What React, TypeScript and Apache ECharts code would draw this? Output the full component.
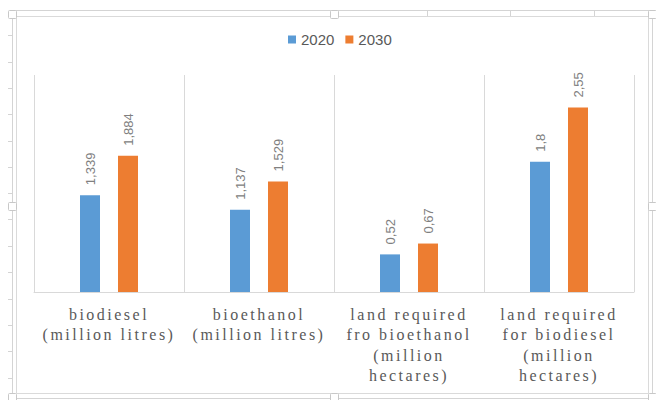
import React, { useEffect, useRef } from "react";
import * as echarts from "echarts";

const categories = [
  "biodiesel\n(million litres)",
  "bioethanol\n(million litres)",
  "land required\nfro bioethanol\n(million\nhectares)",
  "land required\nfor biodiesel\n(million\nhectares)",
];
const series2020 = [1.339, 1.137, 0.52, 1.8];
const series2030 = [1.884, 1.529, 0.67, 2.55];
const seriesNames = ["2020", "2030"];

const fmt = (v: number) => String(v).replace(".", ",");

const SERIF = "'Liberation Serif', serif";

export default function App() {
  const ref = useRef<HTMLDivElement>(null);
  useEffect(() => {
    if (!ref.current) return;
    const el = ref.current;
    const chart = echarts.init(el, undefined, { renderer: "svg" });
    const label = {
      show: true,
      position: "top",
      rotate: 90,
      align: "left",
      verticalAlign: "middle",
      distance: 10,
      color: "#808080",
      fontSize: 13,
      fontFamily: "'Liberation Sans', sans-serif",
      formatter: (p: any) => fmt(p.value),
    };
    const frameColor = "#d4d4d4";
    const handles = [
      [8, 10], [330, 10], [648, 10],
      [8, 202], [648, 202],
      [8, 393], [330, 393], [648, 393],
    ];
    const rowTicks = [35, 62, 88, 114, 141, 167, 193, 219, 246, 272, 299, 325, 351, 378];
    const colTicks = [427, 510, 594];
    const graphic: any[] = [
      {
        type: "rect",
        shape: { x: 12.5, y: 10.5, width: 640, height: 388 },
        style: { fill: "none", stroke: frameColor, lineWidth: 1 },
        silent: true,
      },
      {
        type: "rect",
        shape: { x: 16.5, y: 16.5, width: 632, height: 377 },
        style: { fill: "#fff", stroke: "#dadada", lineWidth: 1 },
        silent: true,
        z: -1,
      },
      ...rowTicks.map((y) => ({
        type: "line",
        shape: { x1: 8, y1: y + 0.5, x2: 12, y2: y + 0.5 },
        style: { stroke: frameColor, lineWidth: 1 },
        silent: true,
      })),
      ...colTicks.map((x) => ({
        type: "line",
        shape: { x1: x + 0.5, y1: 10, x2: x + 0.5, y2: 16 },
        style: { stroke: frameColor, lineWidth: 1 },
        silent: true,
      })),
      ...handles.map(([x, y]) => ({
        type: "rect",
        shape: { x: x + 0.5, y: y + 0.5, width: 8, height: 8, r: 1 },
        style: { fill: "#fff", stroke: "#c8c8c8", lineWidth: 1 },
        silent: true,
      })),
    ];
    chart.setOption({
      animation: false,
      backgroundColor: "#ffffff",
      graphic,
      legend: {
        top: 27,
        left: 283,
        itemWidth: 8,
        itemHeight: 8,
        itemGap: 11,
        icon: "rect",
        textStyle: { color: "#595959", fontSize: 15, fontFamily: "'Liberation Sans', sans-serif" },
        data: seriesNames,
      },
      grid: { left: 34, right: 22, top: 75, bottom: 108 },
      xAxis: {
        type: "category",
        data: categories,
        axisLine: { lineStyle: { color: "#d9d9d9" } },
        axisTick: { show: false },
        splitLine: { show: true, lineStyle: { color: "#d9d9d9" } },
        axisLabel: {
          interval: 0,
          margin: 12,
          lineHeight: 20.5,
          color: "#595959",
          fontSize: 16,
          fontFamily: SERIF,
        },
      },
      yAxis: {
        type: "value",
        min: 0,
        max: 3,
        show: false,
        splitLine: { show: false },
      },
      series: [
        {
          name: seriesNames[0],
          type: "bar",
          data: series2020,
          barWidth: 20,
          barGap: "90%",
          itemStyle: { color: "#5b9bd5" },
          label,
        },
        {
          name: seriesNames[1],
          type: "bar",
          data: series2030,
          barWidth: 20,
          barGap: "90%",
          itemStyle: { color: "#ed7d31" },
          label,
        },
      ],
    });
    const spaceOut = () => {
      el.querySelectorAll("text").forEach((t) => {
        const ff = window.getComputedStyle(t).fontFamily || "";
        if (ff.indexOf("Liberation Serif") >= 0) {
          (t as SVGTextElement).style.letterSpacing = "2.5px";
        }
      });
    };
    spaceOut();
    chart.on("finished", spaceOut);
    const timer = setTimeout(spaceOut, 50);
    return () => {
      clearTimeout(timer);
      chart.dispose();
    };
  }, []);
  return (
    <div
      ref={ref}
      style={{ position: "fixed", left: 0, top: 0, width: 656, height: 400 }}
    />
  );
}
